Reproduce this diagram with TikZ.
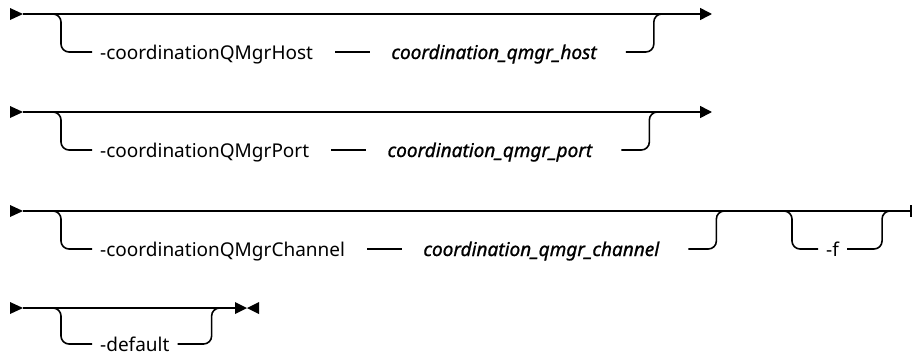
\documentclass[tikz,border=0pt]{standalone}
\usepackage{fontspec}
\setmainfont{Noto Sans}
\newfontfamily\varfont[ItalicFeatures={FakeBold=1}]{Noto Sans}
\usetikzlibrary{arrows.meta,positioning,calc}
\tikzset{
  track/.style    = {line width=1.6pt, rounded corners=8pt},
  kwbox/.style    = {inner xsep=8pt, inner ysep=0pt, text height=14pt, text depth=0pt,
                     font=\fontsize{19}{22}\selectfont},
  varbox/.style   = {kwbox, font=\fontsize{19}{22}\selectfont\varfont\itshape},
  endarrow/.style = {-{Triangle[length=12pt,width=12pt]}},
  startmark/.pic  = {\fill (-13pt,-6pt) -- (0pt,0pt) -- (-13pt,6pt) -- cycle;},
  stopmark/.pic   = {\fill (0pt,-6pt) -- (12pt,0pt) -- (0pt,6pt) -- cycle;
                     \fill (24pt,-6pt) -- (12pt,0pt) -- (24pt,6pt) -- cycle;},
  barmark/.pic    = {\draw[line width=1.6pt] (0pt,-6pt) -- (0pt,6pt);},
}

\begin{document}
\begin{tikzpicture}[x=1pt, y=-1pt, node distance=62pt]
\useasboundingbox (0,0) rectangle (913,356);
% ---- host ----
\coordinate (s1) at (23,14);
\coordinate (e1) at (712,14);
\coordinate (b1) at (50,14);
\pic at (s1) {startmark};
\draw[track, endarrow] (s1) -- (e1);
\node[kwbox, anchor=west] (host) at (92,52) {-coordinationQMgrHost};
\node[varbox, right=of host] (hostv) {coordination\_qmgr\_host};
\draw[track] (b1) -| ++(11,38) -- (host.west);
\draw[track, shorten <=14pt, shorten >=13pt] (host) -- (hostv);
\draw[track, shorten <=21pt] (hostv.east) -| ++(49,-38) -- ++(12,0);
% ---- port ----
\coordinate (s2) at (23,112);
\coordinate (e2) at (712,112);
\coordinate (b2) at (50,112);
\pic at (s2) {startmark};
\draw[track, endarrow] (s2) -- (e2);
\node[kwbox, anchor=west] (port) at (92,150) {-coordinationQMgrPort};
\node[varbox, right=of port] (portv) {coordination\_qmgr\_port};
\draw[track] (b2) -| ++(11,38) -- (port.west);
\draw[track, shorten <=14pt, shorten >=13pt] (port) -- (portv);
\draw[track, shorten <=21pt] (portv.east) -| ++(49,-38) -- ++(12,0);
% ---- channel and -f ----
\coordinate (s3) at (23,211);
\coordinate (e3) at (911,211);
\coordinate (b3) at (50,211);
\coordinate (b3f) at (783,211);
\pic at (s3) {startmark};
\draw[track] (s3) -- (e3);
\pic at (e3) {barmark};
\node[kwbox, anchor=west] (chan) at (92,249) {-coordinationQMgrChannel};
\node[varbox, right=of chan] (chanv) {coordination\_qmgr\_channel};
\draw[track] (b3) -| ++(11,38) -- (chan.west);
\draw[track, shorten <=14pt, shorten >=13pt] (chan) -- (chanv);
\draw[track, shorten <=21pt] (chanv.east) -| ++(49,-38) -- ++(12,0);
\node[kwbox, anchor=west] (force) at (818,249) {-f};
\draw[track] (b3f) -| ++(9,38) -- (force.west);
\draw[track] (force.east) -| ++(35,-38) -- ++(10,0);
% ---- default ----
\coordinate (s4) at (23,308);
\coordinate (e4) at (235,308);
\coordinate (b4) at (50,308);
\pic at (s4) {startmark};
\draw[track] (s4) -- (e4);
\pic at (e4) {stopmark};
\node[kwbox, anchor=west] (dflt) at (92,344) {-default};
\draw[track] (b4) -| ++(11,36) -- (dflt.west);
\draw[track] (dflt.east) -| ++(34,-36) -- ++(10,0);
\end{tikzpicture}
\end{document}
